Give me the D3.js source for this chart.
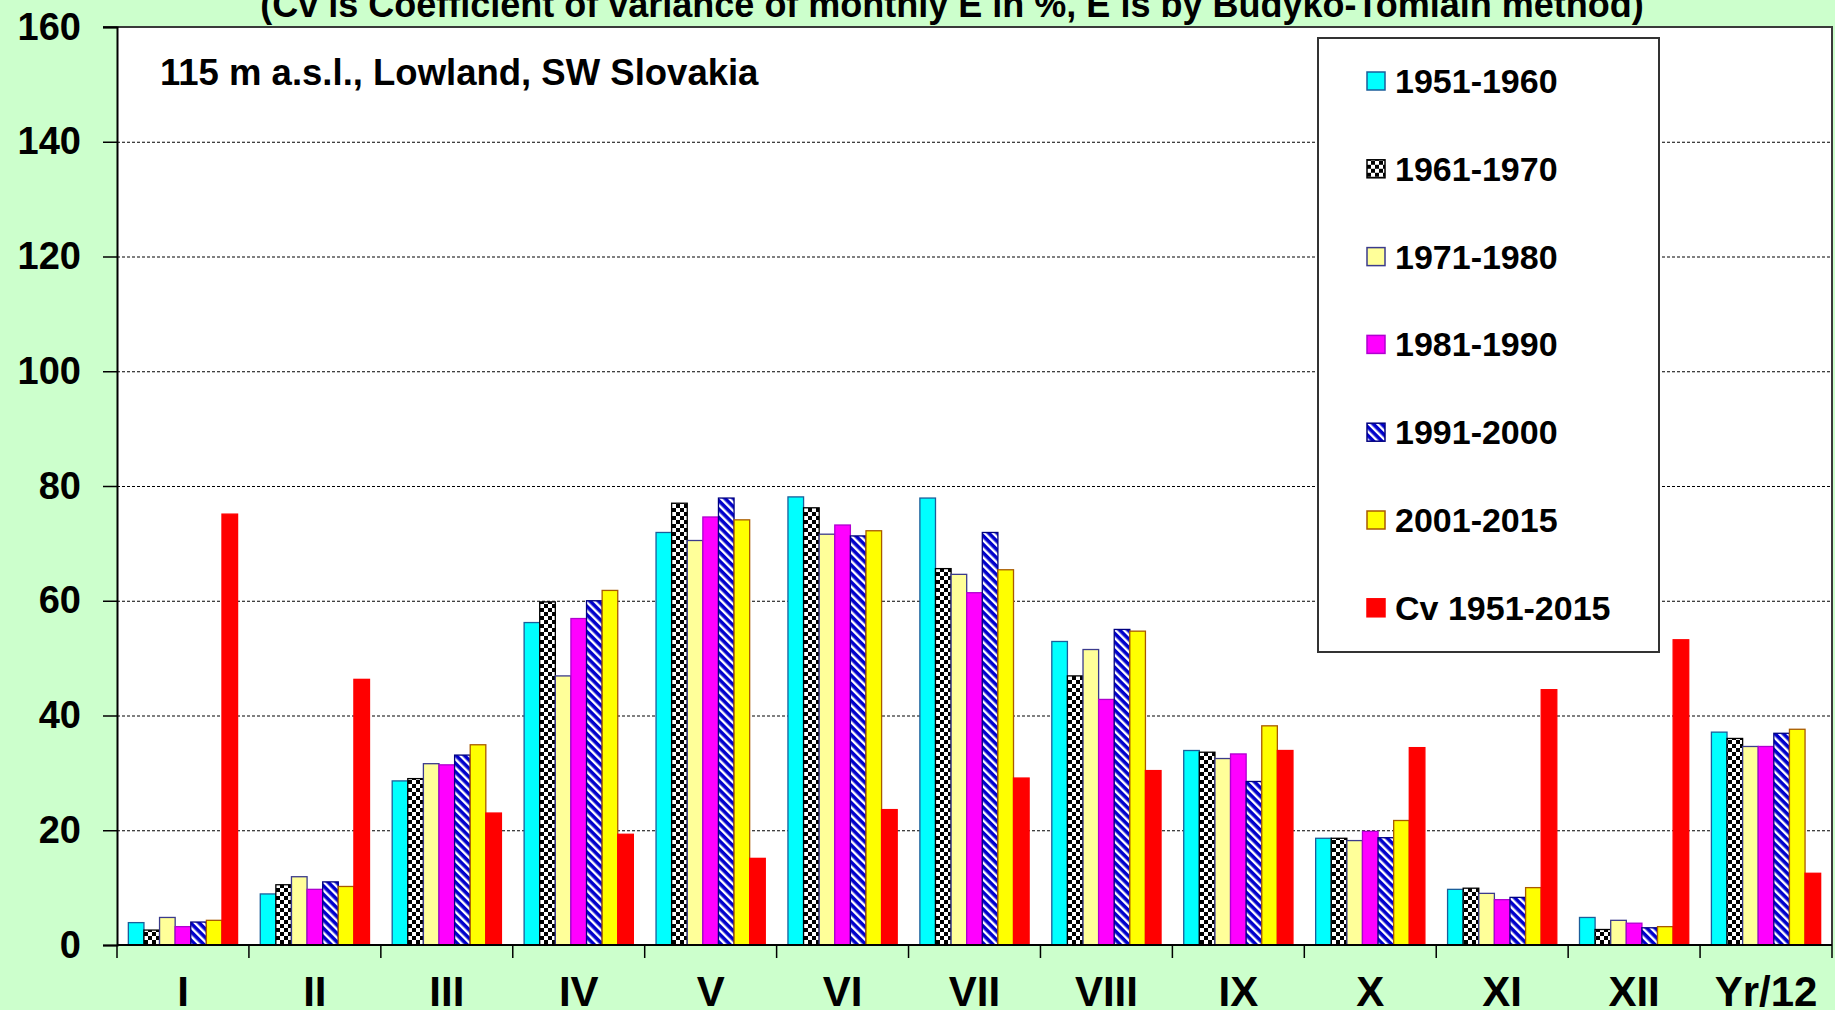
<!DOCTYPE html>
<html lang="en">
<head>
  <meta charset="utf-8">
  <title>Evapotranspiration by decade</title>
  <script src="https://cdn.jsdelivr.net/npm/d3@7"></script>
  <style>
    html, body { margin: 0; padding: 0; background: #ccffcc; }
    svg { display: block; font-family: "Liberation Sans", Arial, sans-serif; font-weight: bold; }
    .grid line { stroke: #000; stroke-width: 1; stroke-dasharray: 3,2; }
    .grid path { display: none; }
  </style>
</head>
<body>
  <div id="chart"></div>

  <script>
    // data
    var categories = ["I", "II", "III", "IV", "V", "VI", "VII", "VIII", "IX", "X", "XI", "XII", "Yr/12"];
    var seriesNames = ["1951-1960", "1961-1970", "1971-1980", "1981-1990", "1991-2000", "2001-2015", "Cv 1951-2015"];
    var s1951 = [3.9, 8.9, 28.6, 56.2, 71.9, 78.1, 77.9, 52.9, 33.9, 18.6, 9.7, 4.8, 37.1];
    var s1961 = [2.6, 10.5, 29.0, 59.8, 77.0, 76.2, 65.6, 46.9, 33.6, 18.6, 9.9, 2.7, 36.0];
    var s1971 = [4.8, 11.9, 31.6, 46.9, 70.5, 71.6, 64.6, 51.5, 32.5, 18.2, 9.0, 4.3, 34.6];
    var s1981 = [3.2, 9.7, 31.4, 56.9, 74.6, 73.2, 61.4, 42.8, 33.3, 19.8, 7.9, 3.8, 34.6];
    var s1991 = [4.0, 11.0, 33.1, 60.0, 77.9, 71.3, 71.9, 55.0, 28.5, 18.7, 8.3, 3.0, 36.9];
    var s2001 = [4.3, 10.2, 34.9, 61.8, 74.1, 72.2, 65.4, 54.7, 38.2, 21.7, 10.0, 3.2, 37.6];
    var cv = [75.1, 46.3, 23.0, 19.3, 15.1, 23.6, 29.1, 30.4, 33.9, 34.4, 44.5, 53.2, 12.5];
    var yTicks = [0, 20, 40, 60, 80, 100, 120, 140, 160];

    var allSeries = [s1951, s1961, s1971, s1981, s1991, s2001, cv];

    var fills = ["#00ffff", "url(#checker)", "#ffff99", "#ff00ff", "url(#stripes)", "#ffff00", "#ff0000"];
    var strokes = ["#1b5e9a", "#000000", "#3b3b8c", "#b000d0", "#000080", "#a85a00", "#ff0000"];

    var W = 1835, H = 1010;
    var plotL = 117, plotR = 1832, plotT = 27, plotB = 945;

    var svg = d3.select("#chart")
      .append("svg")
      .attr("width", W)
      .attr("height", H);

    var defs = svg.append("defs");

    var checker = defs.append("pattern")
      .attr("id", "checker")
      .attr("patternUnits", "userSpaceOnUse")
      .attr("width", 8).attr("height", 8);
    checker.append("rect").attr("width", 8).attr("height", 8).attr("fill", "#000");
    checker.append("rect").attr("x", 0).attr("y", 0).attr("width", 4).attr("height", 4).attr("fill", "#fff");
    checker.append("rect").attr("x", 4).attr("y", 4).attr("width", 4).attr("height", 4).attr("fill", "#fff");

    var stripes = defs.append("pattern")
      .attr("id", "stripes")
      .attr("patternUnits", "userSpaceOnUse")
      .attr("width", 6).attr("height", 6)
      .attr("patternTransform", "rotate(-45)");
    stripes.append("rect").attr("width", 6).attr("height", 6).attr("fill", "#0000cc");
    stripes.append("rect").attr("x", 0).attr("width", 2.4).attr("height", 6).attr("fill", "#fff");

    // title, cut off at the top as in the original
    svg.append("text")
      .attr("x", 952)
      .attr("y", 17)
      .attr("text-anchor", "middle")
      .attr("font-size", 36)
      .text("(Cv is Coefficient of variance of monthly E in %, E is by Budyko-Tomlain method)");

    // plot area
    svg.append("rect")
      .attr("x", plotL).attr("y", plotT)
      .attr("width", plotR - plotL).attr("height", plotB - plotT)
      .attr("fill", "#fff");

    var x0 = d3.scaleBand()
      .domain(categories)
      .range([plotL, plotR])
      .paddingInner(0)
      .paddingOuter(0);

    var x1 = d3.scaleBand()
      .domain(d3.range(seriesNames.length))
      .range([0, x0.bandwidth()])
      .paddingInner(0)
      .paddingOuter(0.727);

    var y = d3.scaleLinear()
      .domain([0, 160])
      .range([plotB, plotT]);

    // gridlines
    svg.append("g")
      .attr("class", "grid")
      .attr("transform", "translate(" + plotL + ",0)")
      .call(d3.axisLeft(y).tickValues(yTicks.slice(1, -1)).tickSize(-(plotR - plotL)).tickFormat(""));

    // bars
    var groups = svg.selectAll(".series")
      .data(allSeries)
      .enter()
      .append("g")
      .attr("class", "series");

    groups.each(function(vals, si) {
      d3.select(this).selectAll("rect")
        .data(vals)
        .enter()
        .append("rect")
        .attr("x", function(d, i) { return x0(categories[i]) + x1(si); })
        .attr("y", function(d) { return y(d); })
        .attr("width", x1.bandwidth())
        .attr("height", function(d) { return y(0) - y(d); })
        .attr("fill", fills[si])
        .attr("stroke", strokes[si])
        .attr("stroke-width", 1.3);
    });

    // plot area border (top and right)
    svg.append("path")
      .attr("d", "M" + (plotL - 14) + "," + plotT + "H" + plotR + "V" + plotB)
      .attr("fill", "none")
      .attr("stroke", "#3a3a3a")
      .attr("stroke-width", 2);

    // y axis
    var yAxis = svg.append("g")
      .attr("transform", "translate(" + plotL + ",0)")
      .call(d3.axisLeft(y).tickValues(yTicks).tickSize(14).tickPadding(22));
    yAxis.select(".domain").attr("stroke", "#000").attr("stroke-width", 2);
    yAxis.selectAll(".tick line").attr("stroke", "#000").attr("stroke-width", 1.5);
    yAxis.selectAll("text")
      .attr("font-size", 38)
      .attr("font-weight", "bold")
      .attr("font-family", "Liberation Sans, Arial, sans-serif")
      .attr("fill", "#000");

    // x axis line and category boundary ticks
    svg.append("line")
      .attr("x1", plotL).attr("x2", plotR)
      .attr("y1", plotB).attr("y2", plotB)
      .attr("stroke", "#000").attr("stroke-width", 2);

    svg.selectAll(".xtick")
      .data(categories.concat(["end"]))
      .enter()
      .append("line")
      .attr("class", "xtick")
      .attr("x1", function(d, i) { return plotL + i * x0.step(); })
      .attr("x2", function(d, i) { return plotL + i * x0.step(); })
      .attr("y1", plotB)
      .attr("y2", plotB + 13)
      .attr("stroke", "#000")
      .attr("stroke-width", 1.5);

    svg.selectAll(".xlabel")
      .data(categories)
      .enter()
      .append("text")
      .attr("class", "xlabel")
      .attr("x", function(d) { return x0(d) + x0.bandwidth() / 2; })
      .attr("y", 1006)
      .attr("text-anchor", "middle")
      .attr("font-size", 42)
      .text(function(d) { return d; });

    // site note
    svg.append("text")
      .attr("x", 160)
      .attr("y", 85)
      .attr("font-size", 36.5)
      .text("115 m a.s.l., Lowland, SW Slovakia");

    // legend
    var legend = svg.append("g");
    legend.append("rect")
      .attr("x", 1318).attr("y", 38)
      .attr("width", 341).attr("height", 614)
      .attr("fill", "#fff")
      .attr("stroke", "#333")
      .attr("stroke-width", 2);

    var items = legend.selectAll(".item")
      .data(seriesNames)
      .enter()
      .append("g")
      .attr("class", "item")
      .attr("transform", function(d, i) { return "translate(1367," + (81 + i * 87.8) + ")"; });

    items.append("rect")
      .attr("x", 0).attr("y", -9)
      .attr("width", 18).attr("height", 18)
      .attr("fill", function(d, i) { return fills[i]; })
      .attr("stroke", function(d, i) { return strokes[i]; })
      .attr("stroke-width", 1.5);

    items.append("text")
      .attr("x", 28)
      .attr("y", 12)
      .attr("font-size", 34)
      .text(function(d) { return d; });
  </script>
</body>
</html>
